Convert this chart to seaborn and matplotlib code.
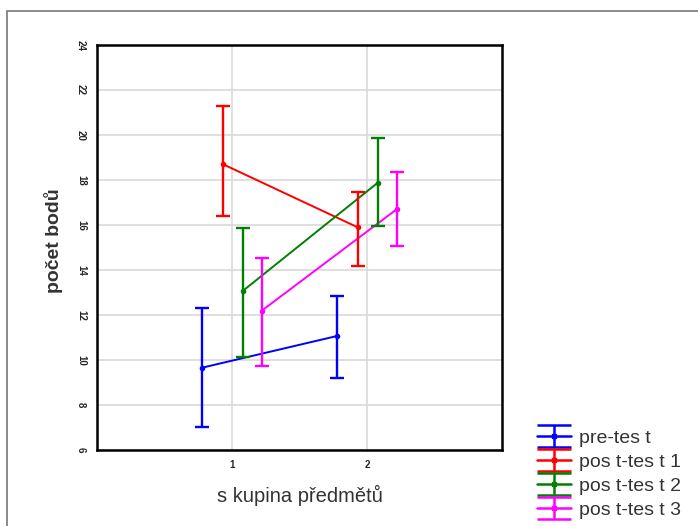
import numpy as np
import pandas as pd
import matplotlib
matplotlib.use("Agg")
import matplotlib.pyplot as plt
from matplotlib.legend_handler import HandlerErrorbar
from matplotlib.patches import Rectangle
import seaborn as sns

# ── Data ──────────────────────────────────────────────────────────────────────
groups = [1, 2]
tests = ["pre-tes t", "pos t-tes t 1", "pos t-tes t 2", "pos t-tes t 3"]

pre_mean  = [9.66, 11.07]
pre_lo    = [7.04, 9.19]
pre_hi    = [12.30, 12.84]

post1_mean = [18.71, 15.90]
post1_lo   = [16.40, 14.18]
post1_hi   = [21.30, 17.45]

post2_mean = [13.07, 17.88]
post2_lo   = [10.15, 15.96]
post2_hi   = [15.88, 19.85]

post3_mean = [12.19, 16.70]
post3_lo   = [9.73, 15.07]
post3_hi   = [14.52, 18.34]

# ── Style ─────────────────────────────────────────────────────────────────────
COLORS  = ["#0000ff", "#ff0000", "#008000", "#ff00ff"]
OFFSETS = [-0.22, -0.07, 0.08, 0.22]   # dodge within each group

sns.set_style("whitegrid", {"grid.color": "#d9d9d9", "axes.edgecolor": "black"})
plt.rcParams["font.family"] = ["Liberation Sans", "DejaVu Sans"]

means = [pre_mean, post1_mean, post2_mean, post3_mean]
los   = [pre_lo, post1_lo, post2_lo, post3_lo]
his   = [pre_hi, post1_hi, post2_hi, post3_hi]

rows = []
for t, m, lo, hi, off in zip(tests, means, los, his, OFFSETS):
    for g, mv, l, h in zip(groups, m, lo, hi):
        rows.append({"test": t, "x": g + off, "mean": mv, "lo": l, "hi": h})
df = pd.DataFrame(rows)

fig = plt.figure(figsize=(6.98, 5.26), dpi=100)
ax = fig.add_axes([97 / 698, 76 / 526, 405 / 698, 405 / 526])

# mean lines
sns.lineplot(data=df, x="x", y="mean", hue="test", hue_order=tests,
             palette=COLORS, marker="o", markersize=4, markeredgewidth=0,
             linewidth=1.4, legend=False, ax=ax, zorder=3)

# confidence interval bars + legend proxies
handles = []
for t, c in zip(tests, COLORS):
    d = df[df["test"] == t]
    ax.errorbar(d["x"], d["mean"],
                yerr=[d["mean"] - d["lo"], d["hi"] - d["mean"]],
                fmt="none", ecolor=c, elinewidth=1.7, capsize=5,
                capthick=1.7, zorder=3)
    h = ax.errorbar([np.nan], [np.nan], yerr=[[np.nan], [np.nan]], fmt="-s",
                    color=c, markersize=3, linewidth=1.8, elinewidth=1.8,
                    capsize=12, capthick=1.8, label=t)
    handles.append(h)

ax.set_xlim(0, 3)
ax.set_ylim(6, 24)
ax.set_xticks([1, 2])
ax.set_yticks(np.arange(6, 25, 2))
ax.tick_params(axis="x", labelsize=7, length=0, pad=7)
ax.tick_params(axis="y", labelsize=7, length=0, pad=8)
for lab in ax.get_yticklabels():
    lab.set_rotation(-90)
    lab.set_fontweight("bold")
    lab.set_va("center")
for lab in ax.get_xticklabels():
    lab.set_fontweight("bold")
ax.grid(True, color="#d9d9d9", linewidth=1.2)
for s in ax.spines.values():
    s.set_color("black")
    s.set_linewidth(1.8)

ax.set_xlabel("s kupina předmětů", fontsize=14.5, color="#333333", labelpad=11)
ax.set_ylabel("počet bodů", fontsize=14, color="#333333", fontweight="bold")
ax.yaxis.set_label_coords(-0.083, 0.516)

fig.legend(handles=handles, labels=tests, loc="upper left",
           bbox_to_anchor=(537 / 698, 97 / 526), frameon=False,
           fontsize=14, handlelength=1.75, handletextpad=0.4,
           labelspacing=0.33, borderpad=0, borderaxespad=0,
           handler_map={type(handles[0]): HandlerErrorbar(xerr_size=0.5, yerr_size=0.55)},
           labelcolor="#333333")

# outer frame of the original chart
fig.patches.append(Rectangle((7 / 698, -0.1), 1.2, (515 / 526) + 0.1,
                             transform=fig.transFigure, fill=False,
                             edgecolor="#777777", linewidth=1.2))

fig.savefig("out.png", dpi=100)
